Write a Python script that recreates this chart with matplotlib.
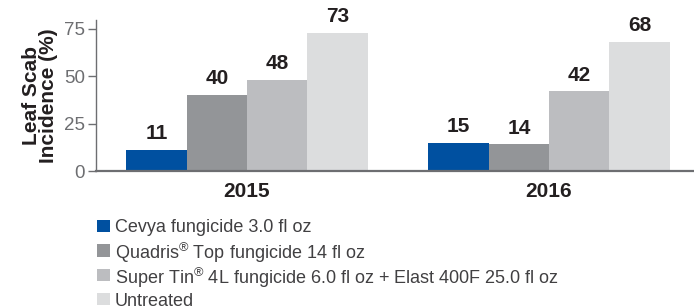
import matplotlib
matplotlib.use("Agg")
import matplotlib.pyplot as plt
import numpy as np
from matplotlib.patches import Rectangle

plt.rcParams['font.family'] = ['Liberation Sans', 'DejaVu Sans']

years = ["2015", "2016"]
treatments = [
    "Cevya fungicide 3.0 fl oz",
    "Quadris$^{\\mathregular{®}}$ Top fungicide 14 fl oz",
    "Super Tin$^{\\mathregular{®}}$ 4L fungicide 6.0 fl oz + Elast 400F 25.0 fl oz",
    "Untreated",
]
values = [
    [11, 15],
    [40, 14],
    [48, 42],
    [73, 68],
]
colors = ["#0050a0", "#939598", "#bcbdc0", "#dcddde"]
text_color = "#231f20"

W, H = 694, 306
fig = plt.figure(figsize=(W / 100, H / 100), dpi=100)
ax = fig.add_axes([96 / W, 1 - 171 / H, 1 - 96 / W, (171 - 19.5) / H])

x = np.arange(len(years))
width = 0.2
for i, (vals, col) in enumerate(zip(values, colors)):
    pos = x + (i - 1.5) * width
    bars = ax.bar(pos, vals, width=width, color=col, linewidth=0, zorder=2)
    for b, v in zip(bars, vals):
        ax.annotate(str(v), (b.get_x() + b.get_width() / 2, v),
                    xytext=(0, 5), textcoords="offset points",
                    ha="center", va="bottom", fontsize=15,
                    fontweight="bold", color=text_color)

ax.set_xlim(-0.5, 1.48)
ax.set_ylim(0, 80)
ax.set_yticks([0, 25, 50, 75])
ax.set_xticks(x)
ax.set_xticklabels(years, fontsize=15, fontweight="bold", color=text_color)
ax.tick_params(axis="x", length=0, pad=8)
ax.tick_params(axis="y", length=6, width=1, color="#6d6e71",
               labelsize=13.5, labelcolor="#6d6e71", pad=2)

for s in ["top", "right"]:
    ax.spines[s].set_visible(False)
ax.spines["left"].set_color("#6d6e71")
ax.spines["left"].set_linewidth(1)
ax.spines["bottom"].set_color("#6d6e71")
ax.spines["bottom"].set_linewidth(1.6)
ax.spines["bottom"].set_zorder(3)

ax.set_ylabel("Leaf Scab\nIncidence (%)", fontsize=15, fontweight="bold",
              color=text_color, labelpad=4, linespacing=0.9)

# legend rows drawn by hand so the ® superscript does not stretch the spacing
row0, row_step, sq = 226, 24.4, 12.5
for i, (lab, col) in enumerate(zip(treatments, colors)):
    yc = row0 + i * row_step
    fig.patches.append(Rectangle((97 / W, 1 - (yc + sq / 2) / H), sq / W, sq / H,
                                 transform=fig.transFigure, facecolor=col,
                                 edgecolor="none"))
    fig.text(115 / W, 1 - yc / H, lab, fontsize=13, color="#414042",
             ha="left", va="center_baseline")

fig.savefig("out.png", dpi=100)
